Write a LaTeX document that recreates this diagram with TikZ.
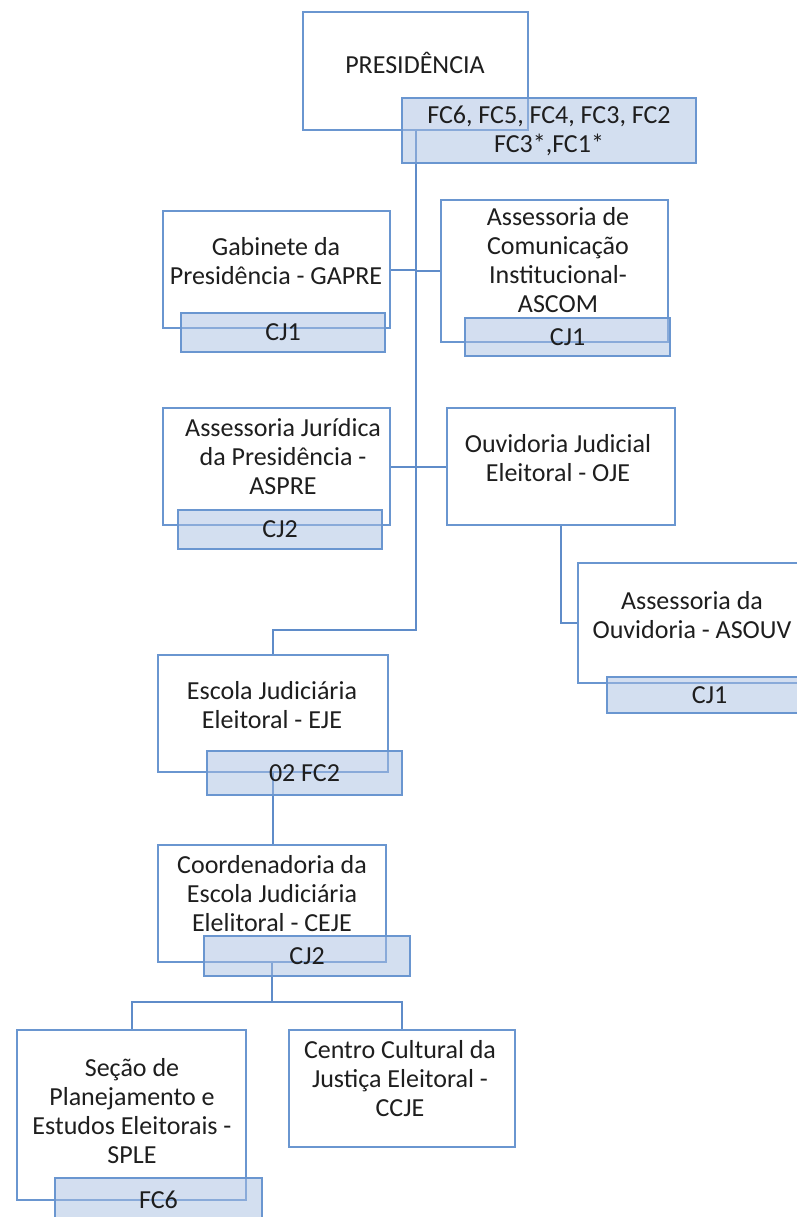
\documentclass[tikz,border=0pt]{standalone}
\usepackage{fontspec}
\setmainfont{Carlito}
\usetikzlibrary{positioning}
\definecolor{boxblue}{HTML}{6A96D0}
\definecolor{lineblue}{HTML}{5F8CC9}
\definecolor{postblue}{HTML}{A8BFE2}
\definecolor{ink}{HTML}{1E1E1E}
\newcommand{\orgfont}{\fontsize{26}{29}\selectfont}

\begin{document}
\begin{tikzpicture}[x=1pt,y=-1pt,
  unit/.style={draw=boxblue,line width=1.6pt,fill=white,inner sep=0pt},
  post/.style={draw=boxblue,line width=1.6pt,fill=postblue,fill opacity=0.5,text opacity=1,inner sep=0pt,align=center,font=\orgfont,text=ink},
  txt/.style={align=center,font=\orgfont,text=ink,inner sep=0pt},
  link/.style={draw=lineblue,line width=2pt}]
 \useasboundingbox (0,0) rectangle (797,1217);
 \clip (0,0) rectangle (797,1217);
 % units
 \node[unit,minimum width=225pt,minimum height=118pt] (pres) at (415.5,71) {};
 \node[unit,minimum width=227pt,minimum height=117pt] (gapre) at (276.5,269.5) {};
 \node[unit,minimum width=227pt,minimum height=142pt] (ascom) at (554.5,271) {};
 \node[unit,minimum width=227pt,minimum height=117pt] (aspre) at (276.5,466.5) {};
 \node[unit,minimum width=228pt,minimum height=117pt] (oje) at (561,466.5) {};
 \node[unit,minimum width=225pt,minimum height=120pt] (asouv) at (690.5,623) {};
 \node[unit,minimum width=230pt,minimum height=117pt] (eje) at (273,713.5) {};
 \node[unit,minimum width=228pt,minimum height=117pt] (ceje) at (272,903.5) {};
 \node[unit,minimum width=229pt,minimum height=170pt] (sple) at (131.5,1115) {};
 \node[unit,minimum width=226pt,minimum height=117pt] (ccje) at (402,1088.5) {};
 % unit names
 \node[txt] (pres-t) at (415,63) {PRESIDÊNCIA};
 \node[txt] (gapre-t) at (276,261) {Gabinete da\\Presidência - GAPRE};
 \node[txt] (ascom-t) at (558,260) {Assessoria de\\Comunicação\\Institucional-\\ASCOM};
 \node[txt] (aspre-t) at (283,457) {Assessoria Jurídica\\da Presidência -\\ASPRE};
 \node[txt] (oje-t) at (558,458) {Ouvidoria Judicial\\Eleitoral - OJE};
 \node[txt] (asouv-t) at (692,615) {Assessoria da\\Ouvidoria - ASOUV};
 \node[txt] (eje-t) at (272,705) {Escola Judiciária\\Eleitoral - EJE};
 \node[txt] (ceje-t) at (272,894) {Coordenadoria da\\Escola Judiciária\\Elelitoral - CEJE};
 \node[txt] (sple-t) at (132,1111) {Seção de\\Planejamento e\\Estudos Eleitorais -\\SPLE};
 \node[txt] (ccje-t) at (400,1079) {Centro Cultural da\\Justiça Eleitoral -\\CCJE};
 % links
 \coordinate (eje-bend) at (415.5,630);
 \coordinate (ceje-split) at (272,1002);
 \draw[link] (pres.south) |- (gapre.east);
 \draw[link] (pres.south) |- (ascom.west);
 \draw[link] (pres.south) |- (aspre.east);
 \draw[link] (pres.south) |- (oje.west);
 \draw[link] (pres.south) -- (eje-bend) -| (eje.north);
 \draw[link] (oje.south) |- (asouv.west);
 \draw[link] (eje.south) -- (eje.south |- ceje.north);
 \draw[link] (ceje.south) -- (ceje-split) -| (sple.north);
 \draw[link] (ceje-split) -| (ccje.north);
 % posts
 \node[post,minimum width=294pt,minimum height=65pt] (pres-fc) at (549,130.5) {FC6, FC5, FC4, FC3, FC2\\FC3*,FC1*};
 \node[post,minimum width=204pt,minimum height=39pt] (gapre-fc) at (283,332.5) {CJ1};
 \node[post,minimum width=205pt,minimum height=38pt] (ascom-fc) at (567.5,337) {CJ1};
 \node[post,minimum width=204pt,minimum height=39pt] (aspre-fc) at (280,529.5) {CJ2};
 \node[post,minimum width=205pt,minimum height=36pt] (asouv-fc) at (709.5,695) {CJ1};
 \node[post,minimum width=195pt,minimum height=44pt] (eje-fc) at (304.5,773) {02 FC2};
 \node[post,minimum width=206pt,minimum height=40pt] (ceje-fc) at (307,956) {CJ2};
 \node[post,minimum width=207pt,minimum height=44pt] (sple-fc) at (158.5,1200) {FC6};
\end{tikzpicture}
\end{document}
